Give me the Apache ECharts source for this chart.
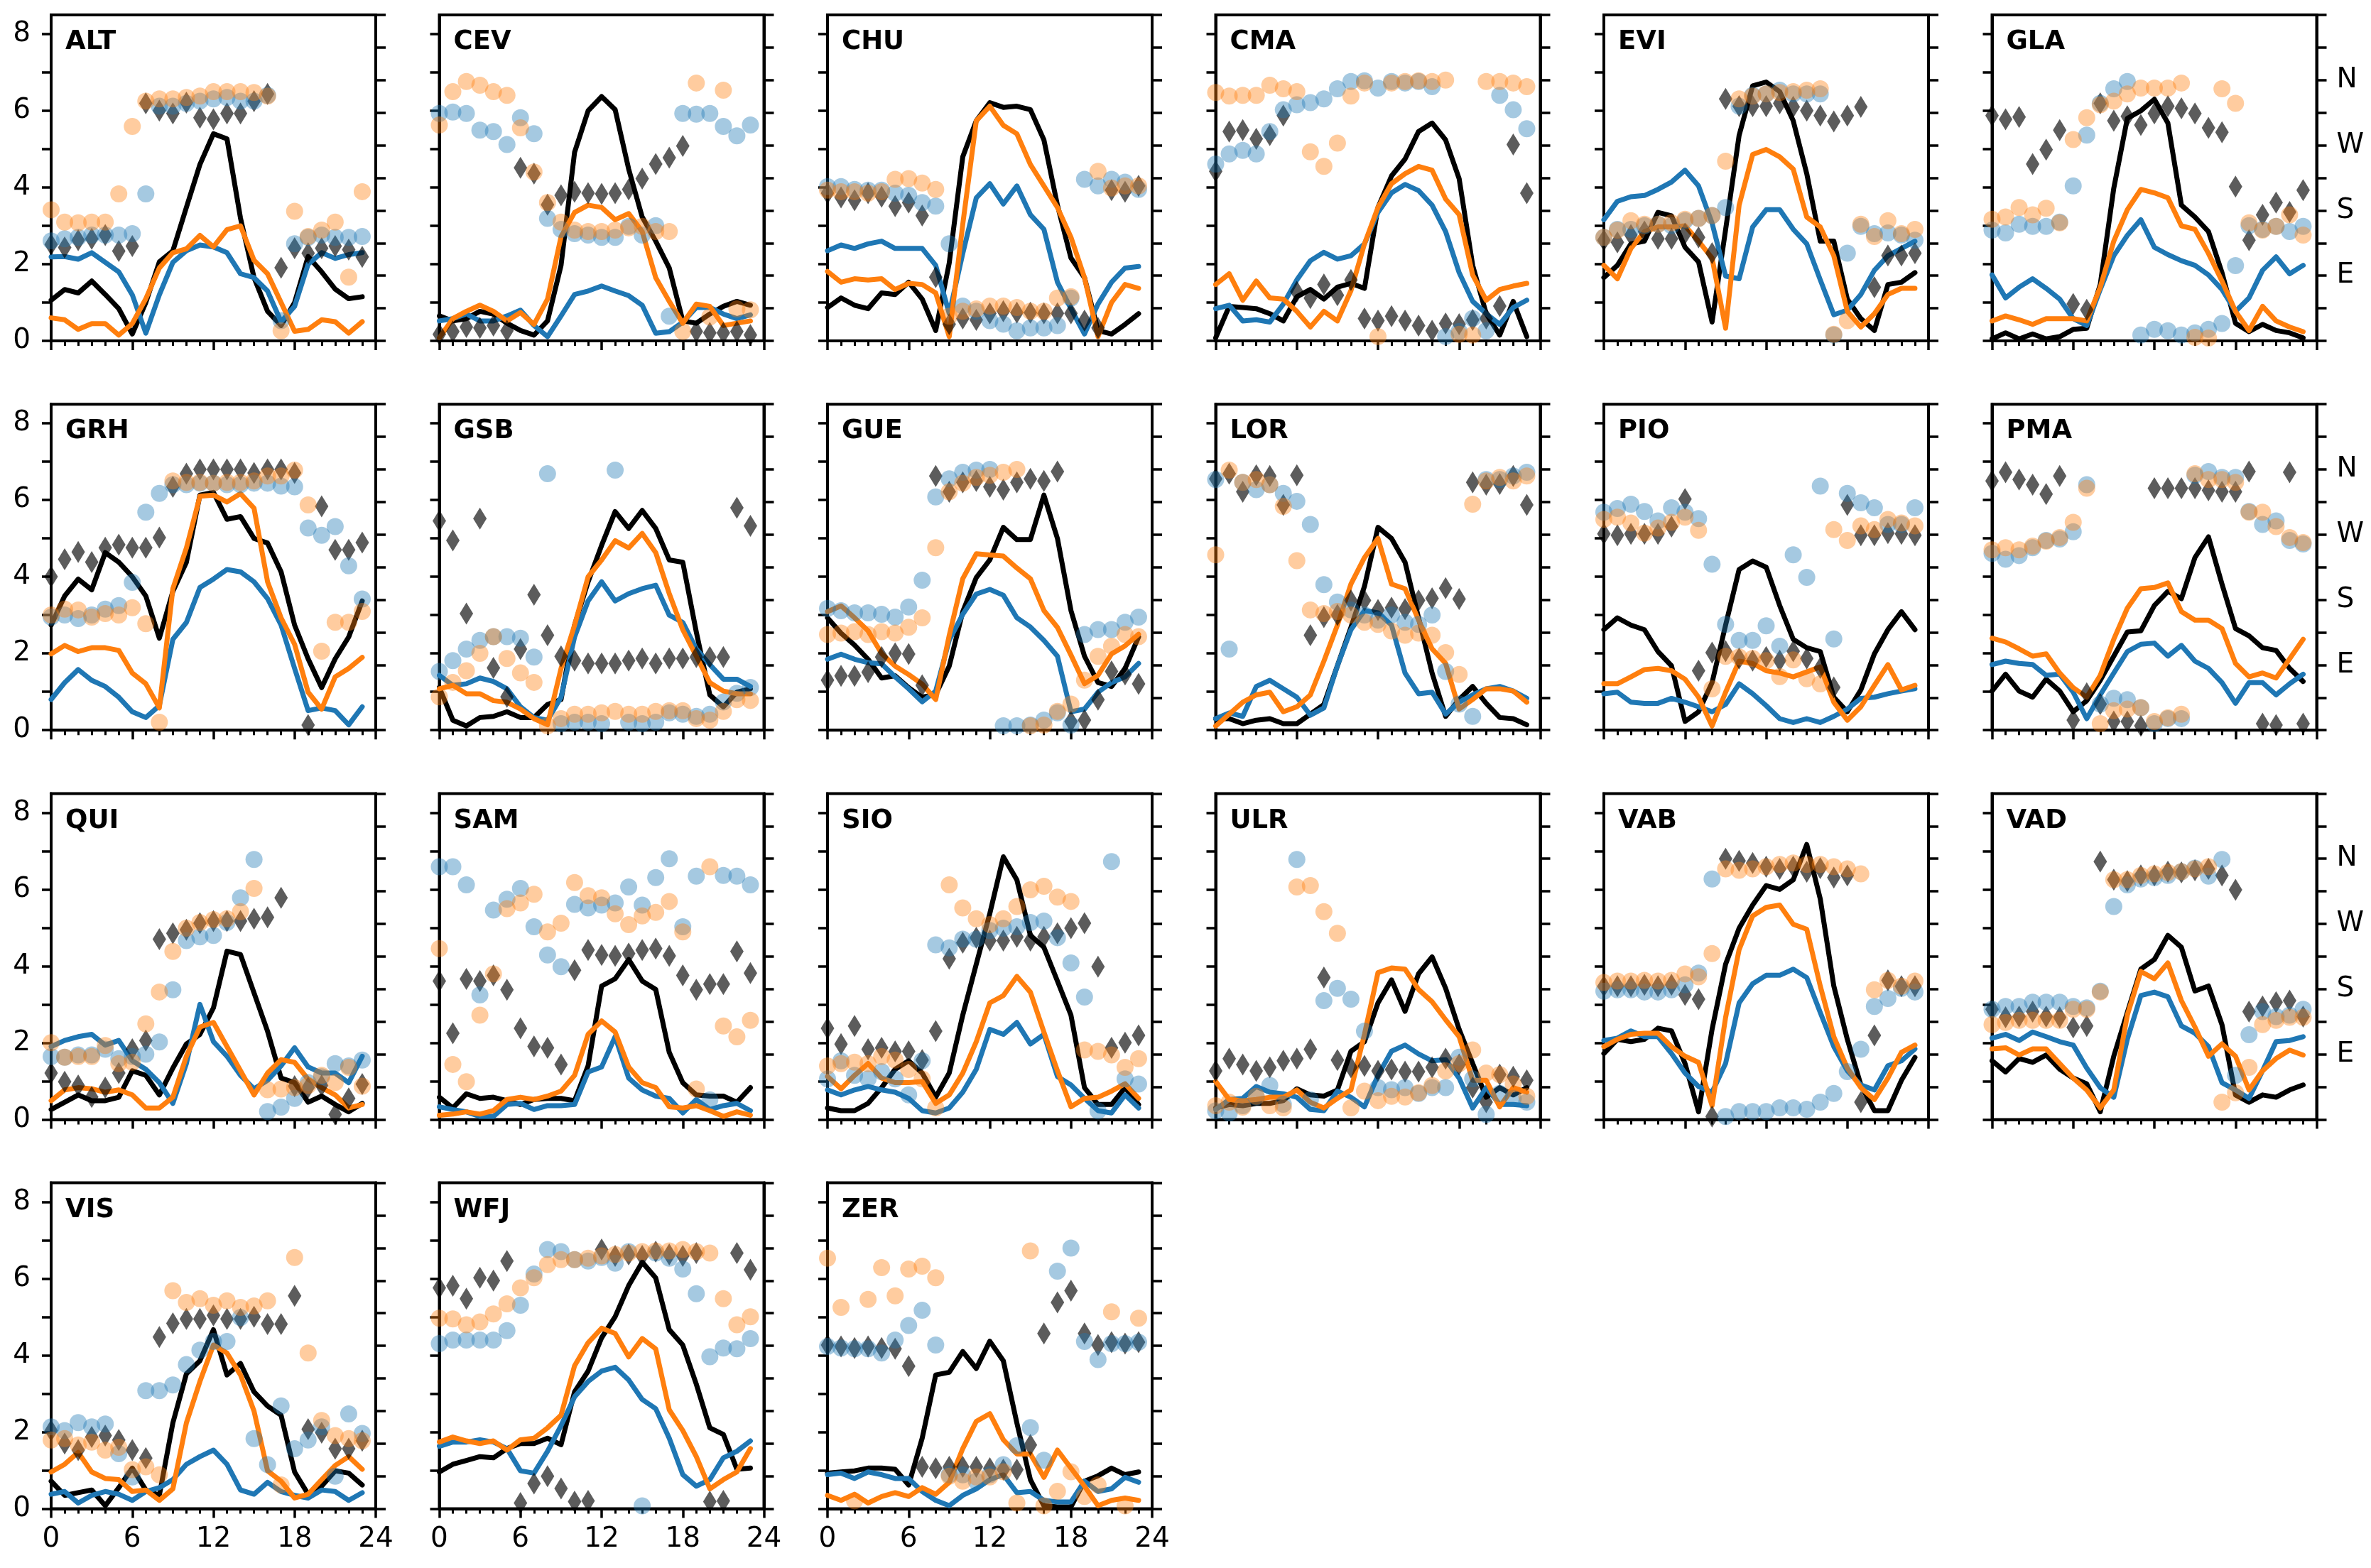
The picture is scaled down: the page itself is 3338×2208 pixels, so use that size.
<!DOCTYPE html>
<html>
<head>
<meta charset="utf-8">
<script src="https://cdn.jsdelivr.net/npm/echarts@6/dist/echarts.min.js"></script>
<style>html,body{margin:0;padding:0;background:#fff}#c{width:3338px;height:2208px}</style>
</head>
<body>
<div id="c"></div>
<script>
const stations = ['ALT','CEV','CHU','CMA','EVI','GLA','GRH','GSB','GUE','LOR','PIO','PMA','QUI','SAM','SIO','ULR','VAB','VAD','VIS','WFJ','ZER'];
const hours = [0,1,2,3,4,5,6,7,8,9,10,11,12,13,14,15,16,17,18,19,20,21,22,23];
const yTicks = [0,1,2,3,4,5,6,7,8];
const yLabels = [0,2,4,6,8];
const dirLabels = {90:'E',180:'S',270:'W',360:'N'};

// observed wind speed (black line)
const spdObs = [
[1.06,1.34,1.25,1.56,1.21,0.84,0.18,1.0,2.06,2.35,3.48,4.6,5.4,5.27,3.2,1.65,0.77,0.4,1.0,2.2,1.8,1.35,1.1,1.15],
[0.65,0.52,0.58,0.77,0.7,0.46,0.27,0.15,0.52,1.97,4.92,6.0,6.37,6.03,4.48,3.23,2.6,1.9,0.52,0.46,0.7,0.9,1.03,0.93],
[0.87,1.12,0.93,0.84,1.25,1.21,1.53,1.09,0.27,2.03,4.8,5.74,6.21,6.09,6.12,6.03,5.24,3.54,2.16,1.65,0.27,0.18,0.43,0.71],
[0.08,0.9,0.87,0.84,0.71,0.52,1.15,1.34,1.09,1.4,1.5,1.37,3.48,4.3,4.74,5.46,5.68,5.24,4.23,1.97,0.71,0.15,1.03,0.11],
[1.65,1.97,2.53,2.6,3.35,3.26,2.44,2.06,0.49,2.9,5.36,6.65,6.75,6.5,5.74,4.36,2.6,2.6,1.09,0.58,0.27,1.47,1.53,1.78],
[0.05,0.21,0.05,0.18,0.05,0.11,0.3,0.33,1.47,3.98,5.8,6.0,6.3,5.68,3.54,3.23,2.85,1.78,0.46,0.24,0.43,0.27,0.21,0.08],
[2.74,3.5,3.94,3.66,4.63,4.38,4.0,3.5,2.4,3.62,4.38,6.13,6.2,5.5,5.57,5.0,4.88,4.13,2.74,1.86,1.11,1.86,2.43,3.37],
[1.11,0.26,0.11,0.33,0.36,0.48,0.33,0.33,0.67,0.8,2.74,3.87,4.82,5.7,5.26,5.73,5.26,4.44,4.38,2.56,0.92,0.61,0.99,1.08],
[2.93,2.53,2.22,1.85,1.36,1.42,1.11,0.86,0.93,1.67,3.09,3.98,4.44,5.29,4.97,4.97,6.13,5.0,3.12,1.93,1.24,1.14,1.61,2.43],
[0.3,0.3,0.17,0.26,0.3,0.17,0.17,0.42,0.67,1.68,2.68,3.75,5.29,5.0,4.38,2.93,1.49,0.36,0.8,1.14,0.7,0.33,0.3,0.14],
[2.62,2.93,2.74,2.62,2.05,1.68,0.23,0.48,1.24,2.74,4.19,4.41,4.25,3.25,2.37,2.15,2.05,0.86,0.48,1.05,1.99,2.62,3.09,2.62],
[1.02,1.46,1.02,0.86,1.33,1.02,0.48,0.77,1.3,1.93,2.56,2.59,3.25,3.62,3.43,4.5,5.04,3.81,2.65,2.46,2.15,2.08,1.61,1.27],
[0.26,0.45,0.64,0.49,0.49,0.58,1.27,1.15,0.64,1.34,1.97,2.22,2.91,4.39,4.3,3.3,2.3,1.08,0.96,0.45,0.61,0.39,0.2,0.42],
[0.58,0.3,0.67,0.55,0.58,0.49,0.39,0.52,0.55,0.55,0.49,1.4,3.48,3.67,4.17,3.61,3.39,1.75,0.96,0.64,0.61,0.61,0.45,0.83],
[0.3,0.23,0.23,0.42,0.83,1.31,1.53,1.21,0.58,1.21,2.72,4.05,5.37,6.85,6.25,4.8,4.49,3.61,2.72,0.83,0.39,0.39,0.83,0.39],
[0.3,0.39,0.36,0.42,0.42,0.49,0.8,0.64,0.61,0.77,1.78,2.03,3.04,3.64,2.82,3.8,4.24,3.42,2.35,1.46,0.58,0.83,0.64,0.83],
[1.72,2.09,2.03,2.09,2.38,2.31,1.46,0.2,2.35,4.05,4.99,5.59,6.1,6.0,6.25,7.17,5.75,3.48,2.09,0.9,0.23,0.23,1.02,1.62],
[1.53,1.24,1.59,1.49,1.68,1.31,1.08,0.93,0.2,1.65,2.79,3.92,4.17,4.8,4.49,3.35,3.48,2.47,0.64,0.45,0.64,0.58,0.77,0.9],
[0.72,0.35,0.42,0.49,0.08,0.55,1.06,0.49,0.35,2.24,3.52,3.86,4.67,3.49,3.79,3.05,2.68,2.44,0.96,0.38,0.59,0.99,0.93,0.62],
[0.96,1.16,1.26,1.36,1.33,1.57,1.7,1.7,1.84,1.67,3.05,3.59,4.46,5.01,5.82,6.43,6.02,4.67,4.27,3.25,2.11,1.94,1.03,1.06],
[0.93,0.96,0.99,1.06,1.06,1.03,0.62,1.84,3.49,3.56,4.1,3.66,4.37,3.86,2.24,0.76,0.08,0.05,0.05,0.72,0.86,1.06,0.89,0.96]
];

// model A wind speed (blue line)
const spdBlue = [
[2.19,2.2,2.13,2.3,2.05,1.8,1.2,0.2,1.2,2.05,2.35,2.5,2.45,2.3,1.75,1.65,1.3,0.5,0.9,2.0,2.3,2.15,2.25,2.3],
[0.52,0.58,0.7,0.52,0.52,0.65,0.8,0.4,0.11,0.65,1.21,1.3,1.43,1.3,1.18,0.93,0.2,0.24,0.49,0.87,0.87,0.7,0.58,0.68],
[2.35,2.5,2.41,2.53,2.6,2.41,2.41,2.41,1.97,0.71,2.28,3.73,4.1,3.57,4.04,3.29,2.91,1.53,0.84,0.18,0.96,1.53,1.9,1.94],
[0.84,0.93,0.52,0.55,0.49,0.96,1.59,2.09,2.31,2.13,2.22,2.53,3.35,3.86,4.08,3.92,3.54,2.85,1.78,1.03,0.71,0.43,0.87,1.06],
[3.16,3.64,3.76,3.79,3.95,4.14,4.45,4.04,3.07,1.69,1.62,2.97,3.42,3.42,2.91,2.53,1.59,0.68,0.8,1.21,1.84,2.22,2.41,2.6],
[1.72,1.12,1.4,1.62,1.37,1.09,0.58,0.4,1.34,2.22,2.75,3.16,2.44,2.25,2.09,1.97,1.72,1.34,0.77,1.12,1.84,2.19,1.75,1.97],
[0.8,1.24,1.58,1.3,1.14,0.86,0.48,0.33,0.64,2.37,2.81,3.72,3.94,4.19,4.13,3.87,3.43,2.74,1.61,0.51,0.58,0.51,0.14,0.61],
[1.43,1.17,1.21,1.36,1.27,1.08,0.61,0.33,0.26,0.86,2.43,3.37,3.87,3.37,3.56,3.69,3.78,3.0,2.81,2.12,1.71,1.33,1.33,1.14],
[1.85,1.98,1.85,1.76,1.73,1.39,1.08,0.74,1.02,2.35,3.02,3.55,3.67,3.52,2.93,2.69,2.34,1.93,0.48,0.55,0.99,1.24,1.39,1.74],
[0.3,0.45,0.36,1.14,1.3,1.08,0.86,0.39,0.58,1.68,2.62,3.12,3.06,2.74,1.49,0.95,0.99,0.42,0.73,0.92,1.08,1.14,1.02,0.83],
[0.95,0.99,0.73,0.7,0.7,0.83,0.73,0.61,0.48,0.67,1.21,0.95,0.64,0.3,0.2,0.3,0.2,0.36,0.55,0.83,0.86,0.95,1.02,1.08],
[1.71,1.8,1.74,1.71,1.43,1.46,0.99,0.3,0.92,1.49,2.05,2.24,2.27,1.93,2.21,1.8,1.61,1.24,0.7,1.24,1.24,0.92,1.21,1.46],
[1.9,2.06,2.16,2.22,1.94,2.06,1.53,1.31,0.96,0.42,1.46,3.0,2.03,1.65,1.15,0.8,1.02,1.4,1.87,1.37,1.21,1.21,0.96,1.65],
[0.33,0.26,0.2,0.08,0.08,0.39,0.42,0.26,0.36,0.36,0.39,1.24,1.37,2.16,1.08,0.77,0.61,0.55,0.17,0.52,0.26,0.36,0.42,0.23],
[0.77,0.64,0.77,0.86,0.77,0.71,0.55,0.23,0.17,0.3,0.71,1.31,2.35,2.22,2.53,1.97,2.22,1.12,0.9,0.55,0.23,0.17,0.64,0.3],
[0.26,0.52,0.55,0.86,0.71,0.67,0.58,0.26,0.23,0.74,0.58,0.33,1.15,1.78,1.94,1.71,1.53,1.56,1.08,0.3,0.83,0.39,0.39,0.36],
[2.06,2.12,2.31,2.16,2.16,1.72,1.21,0.86,0.71,1.46,3.04,3.54,3.76,3.76,3.92,3.7,2.79,1.9,1.27,0.9,0.77,1.4,1.53,1.84],
[2.12,2.22,2.06,2.28,2.16,2.03,1.94,1.34,0.83,0.58,2.09,3.23,3.32,3.2,2.44,2.25,1.9,0.96,0.77,0.55,1.27,2.03,2.06,2.16],
[0.38,0.45,0.15,0.35,0.45,0.38,0.22,0.45,0.55,0.76,1.16,1.36,1.53,1.16,0.49,0.38,0.69,0.45,0.35,0.28,0.49,0.45,0.22,0.42],
[1.63,1.74,1.74,1.8,1.74,1.57,0.99,0.93,1.5,2.17,2.92,3.32,3.59,3.69,3.36,2.85,2.61,1.84,0.89,0.59,0.76,1.33,1.5,1.77],
[0.89,0.93,0.79,0.96,0.89,0.79,0.79,0.45,0.22,0.08,0.35,0.52,0.76,0.89,0.42,0.45,0.22,0.18,0.18,0.72,0.45,0.52,0.82,0.69]
];

// model B wind speed (orange line)
const spdOrange = [
[0.6,0.55,0.3,0.45,0.45,0.15,0.45,1.1,1.9,2.3,2.4,2.75,2.45,2.9,3.0,2.1,1.75,1.0,0.25,0.3,0.55,0.5,0.2,0.5],
[0.08,0.58,0.77,0.93,0.77,0.52,0.74,0.43,1.09,2.72,3.35,3.54,3.48,3.16,3.32,2.85,1.65,1.03,0.46,0.96,0.9,0.4,0.46,0.52],
[1.81,1.53,1.62,1.59,1.62,1.34,1.5,1.47,1.25,0.11,3.04,5.74,6.12,5.62,5.4,4.6,4.04,3.48,2.7,1.65,0.11,1.0,1.47,1.37],
[1.47,1.75,1.06,1.56,1.12,1.09,0.77,0.36,0.77,0.52,1.31,2.53,3.48,4.1,4.36,4.55,4.45,3.7,3.29,1.72,1.06,1.34,1.43,1.5],
[1.97,1.62,2.41,2.85,2.97,2.97,3.0,2.6,2.16,0.33,3.54,4.86,4.99,4.8,4.48,3.23,2.97,2.22,0.77,0.36,0.71,1.21,1.37,1.37],
[0.52,0.65,0.55,0.43,0.58,0.58,0.58,0.52,1.4,2.6,3.42,3.95,3.86,3.73,3.0,2.91,2.28,1.56,0.77,0.27,0.9,0.52,0.36,0.24],
[1.99,2.21,2.05,2.15,2.15,2.08,1.49,1.21,0.58,3.69,4.75,6.1,6.13,5.95,6.17,5.79,3.87,2.93,2.24,0.99,0.55,1.39,1.61,1.9],
[1.08,1.17,0.95,0.95,0.77,0.73,0.55,0.3,0.14,1.61,2.74,4.0,4.44,4.94,4.75,5.13,4.63,3.56,2.62,1.93,1.24,1.02,0.95,0.95],
[3.09,3.24,2.93,2.59,2.0,1.67,1.45,1.2,0.8,2.47,3.95,4.6,4.57,4.54,4.23,3.95,3.12,2.68,1.96,1.21,1.43,1.99,2.2,2.5],
[0.11,0.42,0.73,0.92,0.99,0.48,0.61,0.92,1.8,2.74,3.81,4.5,5.0,3.81,3.69,2.87,2.12,1.74,0.55,0.8,1.08,1.08,1.02,0.73],
[1.21,1.21,1.39,1.58,1.61,1.55,1.33,0.86,0.11,0.99,1.8,1.74,1.55,1.49,1.39,1.52,1.65,0.73,0.26,0.61,1.17,1.71,1.05,1.17],
[2.4,2.3,2.12,1.93,1.99,1.49,1.11,0.86,1.43,2.37,3.18,3.69,3.72,3.84,3.09,2.87,2.87,2.65,1.74,1.39,1.49,1.36,1.86,2.37],
[0.49,0.77,0.83,0.8,0.71,0.77,0.64,0.3,0.3,0.58,1.65,2.41,2.53,1.9,1.27,0.64,1.21,1.56,1.49,1.05,0.83,0.64,0.3,0.39],
[0.11,0.14,0.2,0.14,0.23,0.52,0.58,0.52,0.61,0.74,1.15,2.22,2.57,2.28,1.37,0.96,0.83,0.33,0.3,0.36,0.23,0.08,0.2,0.11],
[1.12,0.8,1.15,1.46,1.08,0.96,0.96,0.99,0.42,0.64,1.21,2.03,3.04,3.23,3.73,3.32,2.28,1.27,0.33,0.55,0.58,0.74,0.93,0.55],
[0.99,0.52,0.49,0.52,0.58,0.58,0.77,0.45,0.3,0.55,0.77,2.22,3.83,3.95,3.92,3.39,3.07,2.6,2.16,1.02,1.02,0.33,0.83,0.71],
[1.9,2.09,2.22,2.25,2.25,1.9,1.65,1.49,0.36,2.66,4.43,5.31,5.53,5.59,5.09,4.96,3.48,2.16,1.34,0.83,0.52,1.08,1.75,1.94],
[1.84,1.87,1.68,1.84,1.84,1.46,1.08,0.77,0.3,0.77,2.72,3.86,3.67,4.08,3.1,2.41,1.65,1.97,1.65,0.77,1.27,1.59,1.81,1.68],
[0.96,1.16,1.47,0.96,0.79,0.76,0.45,0.49,0.22,0.52,2.24,3.32,4.27,4.06,3.49,2.55,0.99,0.72,0.28,0.38,0.76,1.13,1.36,1.03],
[1.74,1.87,1.77,1.7,1.77,1.53,1.8,1.84,2.11,2.44,3.73,4.33,4.71,4.57,3.96,4.44,4.17,2.58,2.04,1.36,0.52,0.76,0.96,1.57],
[0.35,0.22,0.38,0.15,0.32,0.42,0.32,0.55,0.38,0.69,1.57,2.28,2.48,1.8,1.43,1.43,0.82,1.53,1.06,0.59,0.08,0.22,0.28,0.22]
];

// observed wind direction, degrees (black diamonds)
const dirObs = [
[133,129,139,141,146,124,131,328,318,314,329,308,306,314,314,331,341,101,128,121,128,131,126,116],
[9,13,19,18,21,14,239,231,188,201,206,204,203,204,209,224,244,253,269,13,11,11,13,8],
[204,198,194,204,199,186,191,173,88,23,31,29,38,41,39,39,38,38,38,28,18,208,206,214],
[234,289,291,279,284,311,68,59,78,63,84,31,28,34,28,21,14,24,23,29,31,48,271,204],
[139,136,146,151,141,141,148,143,121,334,324,324,324,328,323,318,311,303,311,323,74,118,118,121],
[311,306,309,244,264,291,51,43,328,304,310,298,314,324,321,314,294,288,213,139,174,191,178,208],
[212,236,246,232,252,256,252,252,266,336,354,360,360,360,360,355,360,360,355,7,309,249,249,259],
[289,262,161,292,86,46,112,187,131,102,96,92,92,92,96,99,92,99,99,101,101,101,307,282],
[69,75,75,80,101,106,105,62,351,329,342,344,336,332,342,347,344,357,12,14,42,81,77,64],
[347,354,329,352,351,311,352,131,156,159,179,179,166,169,167,179,182,196,181,342,339,340,351,311],
[271,269,271,271,271,281,319,82,107,109,99,96,101,96,109,99,86,59,311,269,269,272,271,269],
[344,356,346,339,326,351,14,51,36,12,12,6,334,334,334,334,331,329,329,357,9,7,356,9],
[64,52,47,31,44,64,97,109,249,257,262,271,274,274,274,277,279,306,46,44,47,7,29,49],
[191,119,194,191,199,179,126,101,99,76,206,234,227,226,229,234,236,226,199,179,187,187,232,202],
[126,104,129,97,99,94,94,82,122,222,244,251,247,247,252,247,252,257,264,271,211,99,106,116],
[67,84,76,67,72,81,84,97,196,82,72,74,67,69,66,66,72,84,76,44,24,62,59,54],
[184,184,184,186,184,186,172,166,4,360,357,354,349,346,349,342,347,334,337,24,116,192,184,184],
[152,141,142,149,142,141,127,129,356,331,329,337,337,342,341,344,346,337,317,149,156,162,164,142],
[108,90,81,99,101,95,81,70,237,256,262,262,267,262,262,265,255,255,294,110,105,83,83,94],
[305,308,290,319,315,342,8,35,45,28,10,11,358,349,351,349,355,351,349,353,10,11,353,330],
[226,224,222,224,222,221,197,58,56,58,58,58,56,54,54,88,242,285,301,242,226,230,228,230]
];

// model A wind direction, degrees (blue circles)
const dirBlue = [
[138,141,143,146,146,146,148,203,324,324,328,331,334,336,331,331,339,28,134,143,146,143,143,144],
[314,316,314,291,289,271,308,286,169,154,148,146,143,143,158,146,159,34,314,313,314,296,283,298],
[213,213,209,208,208,204,201,191,186,134,48,41,28,23,14,18,18,21,59,223,214,223,219,209],
[244,258,263,258,289,319,326,329,334,348,358,359,349,358,356,358,351,6,13,31,14,339,319,293],
[143,154,154,159,161,159,166,169,173,184,324,339,341,346,341,341,341,8,121,158,148,149,146,139],
[153,149,161,158,158,164,214,284,328,348,358,8,16,14,8,11,16,24,104,159,154,158,151,158],
[156,159,154,159,167,172,204,301,327,339,339,341,341,339,339,341,341,337,336,279,269,281,227,181],
[81,96,112,124,129,129,127,101,354,9,11,11,9,359,11,9,11,24,22,19,22,39,51,59],
[168,165,162,162,160,156,170,207,322,347,356,359,360,6,6,7,14,24,7,132,139,139,149,156],
[346,112,342,332,339,327,316,284,201,177,166,159,152,159,149,146,159,81,36,19,346,346,351,356],
[301,306,312,302,289,307,301,292,229,146,124,124,144,116,242,211,337,126,327,314,307,284,284,307],
[244,236,241,252,262,264,274,339,36,44,42,31,9,16,16,352,357,349,349,302,284,289,262,257],
[87,86,89,89,97,84,87,90,107,179,247,252,254,272,306,359,11,17,29,51,59,77,74,82],
[349,349,324,172,289,304,319,266,227,211,297,292,296,299,321,296,334,360,266,336,27,337,336,324],
[56,81,61,56,66,56,34,81,241,237,249,249,261,264,266,272,274,251,216,169,12,356,56,49],
[12,9,19,31,47,21,359,27,164,181,166,122,44,41,44,36,44,44,86,56,7,36,29,24],
[177,179,179,176,176,179,186,202,332,4,11,11,11,16,16,14,24,36,66,97,156,167,181,176],
[152,156,156,162,162,162,156,154,177,294,324,332,334,337,342,347,336,359,61,117,149,142,144,152],
[113,108,119,113,117,76,44,163,163,171,199,219,231,231,264,97,61,142,83,95,113,45,131,104],
[228,233,233,233,233,246,281,324,358,355,344,342,347,339,355,4,353,346,331,297,210,222,221,235],
[224,222,221,221,215,233,253,274,226,47,47,38,47,61,87,112,67,328,360,231,206,228,228,230]
];

// model B wind direction, degrees (orange circles)
const dirOrange = [
[181,164,163,164,164,203,296,331,334,334,336,338,344,344,344,343,338,14,179,144,153,164,88,206],
[298,344,358,353,344,339,294,233,191,164,153,151,151,153,156,158,151,151,13,356,33,346,44,43],
[208,206,206,204,206,223,224,218,209,34,41,44,48,48,46,41,41,59,61,null,234,211,214,214],
[343,338,339,339,353,348,344,261,241,273,338,356,6,356,358,359,358,360,9,8,358,358,356,351],
[143,153,166,161,161,163,168,169,173,248,334,338,341,343,344,346,348,9,28,161,144,166,148,154],
[168,171,184,174,183,163,278,308,326,331,341,349,349,349,356,5,4,348,328,163,153,158,174,146],
[159,167,166,156,161,159,169,147,11,344,342,342,341,342,342,344,351,351,359,311,109,149,149,164],
[46,66,82,106,129,99,79,66,6,16,22,22,24,26,22,22,26,27,27,16,14,26,42,41],
[132,134,136,132,136,134,142,155,252,329,341,349,352,356,360,6,7,26,36,69,102,116,132,129],
[242,359,342,346,339,309,234,166,161,164,159,149,146,137,131,134,131,107,77,312,344,349,344,351],
[291,294,286,272,279,287,294,276,57,102,101,99,96,74,97,71,64,277,262,282,277,291,286,282],
[249,252,249,254,261,266,287,334,9,27,29,31,12,17,22,354,346,346,342,301,301,281,266,259],
[106,86,87,87,102,77,79,132,176,232,264,272,276,277,287,319,41,42,44,47,61,51,72,46],
[236,76,52,144,201,291,299,311,259,271,327,309,306,284,269,281,286,301,259,42,349,129,114,137],
[74,77,79,77,87,82,69,56,16,324,292,277,269,277,294,317,322,307,301,96,94,89,72,84],
[19,24,17,32,19,16,321,323,287,257,16,39,26,32,31,37,47,67,77,96,64,62,49,32],
[189,191,191,192,191,192,201,197,229,346,344,346,349,352,354,352,352,349,346,339,179,192,184,191],
[131,134,137,137,137,137,152,152,176,331,331,337,339,341,342,346,349,24,37,72,131,137,141,141],
[95,97,88,92,81,85,54,58,47,301,285,290,281,287,278,280,287,33,347,215,122,101,97,94],
[263,262,254,258,269,283,305,319,337,344,344,346,349,351,353,355,356,356,358,355,353,290,254,265],
[346,278,11,289,333,294,331,335,319,45,38,44,44,51,8,356,4,24,51,17,33,272,4,263]
];

const FONT = 'DejaVu Sans';
const chart = echarts.init(document.getElementById('c'), null, {renderer: 'canvas', width: 3338, height: 2208});

const grids = [], xAxes = [], yAxes = [], series = [], titles = [];
const pair = arr => hours.map((h, i) => [h, arr[i]]).filter(p => p[1] !== null && p[1] !== undefined);

stations.forEach((name, k) => {
  const col = k % 6, row = Math.floor(k / 6);
  const left = 72 + col * 546.5, top = 21 + row * 548.2;
  const bottomRow = (k >= 18);
  grids.push({left: left, top: top, width: 457, height: 459, show: true, borderColor: '#000', borderWidth: 4, containLabel: false});
  titles.push({text: name, left: left + 20, top: top + 20, padding: 0,
    textStyle: {fontSize: 37, fontWeight: 'bold', fontFamily: FONT, color: '#000'}});
  xAxes.push({
    gridIndex: k, type: 'value', min: 0, max: 24, interval: 6,
    axisLine: {show: true, onZero: false, lineStyle: {color: '#000', width: 4}},
    axisTick: {show: true, length: 13, lineStyle: {color: '#000', width: 3.5}},
    minorTick: {show: true, splitNumber: 6, length: 7, lineStyle: {color: '#000', width: 3}},
    axisLabel: {show: bottomRow, fontSize: 39, fontFamily: FONT, color: '#000', margin: 24},
    splitLine: {show: false}, minorSplitLine: {show: false}
  });
  yAxes.push({
    gridIndex: k, type: 'value', position: 'left', min: 0, max: 8.5,
    axisLine: {show: true, onZero: false, lineStyle: {color: '#000', width: 4}},
    axisTick: {show: true, length: 13, customValues: yTicks, lineStyle: {color: '#000', width: 3.5}},
    axisLabel: {show: col === 0, customValues: yLabels, fontSize: 39, fontFamily: FONT, color: '#000', margin: 29},
    splitLine: {show: false}
  });
  yAxes.push({
    gridIndex: k, type: 'value', position: 'right', min: 0, max: 450, interval: 45,
    axisLine: {show: true, onZero: false, lineStyle: {color: '#000', width: 4}},
    axisTick: {show: true, length: 14, lineStyle: {color: '#000', width: 3.5}},
    axisLabel: {show: col === 5, customValues: [90, 180, 270, 360], fontSize: 39, fontFamily: FONT, color: '#000', margin: 28,
      formatter: v => dirLabels[v] || ''},
    splitLine: {show: false}
  });
  const lineDefs = [[spdObs, '#000000'], [spdBlue, '#1f77b4'], [spdOrange, '#ff7f0e']];
  lineDefs.forEach(([arr, c], j) => {
    series.push({type: 'line', xAxisIndex: k, yAxisIndex: 2 * k, data: pair(arr[k]), symbol: 'none',
      lineStyle: {color: c, width: 7, cap: 'round', join: 'round'}, z: 2 + j * 0.1, silent: true});
  });
  series.push({type: 'scatter', xAxisIndex: k, yAxisIndex: 2 * k + 1, data: pair(dirObs[k]), symbol: 'diamond',
    symbolSize: [19, 31], itemStyle: {color: 'rgba(0,0,0,0.8)'}, z: 5, silent: true});
  series.push({type: 'scatter', xAxisIndex: k, yAxisIndex: 2 * k + 1, data: pair(dirBlue[k]), symbol: 'circle',
    symbolSize: 24, itemStyle: {color: 'rgba(31,119,180,0.5)'}, z: 6, silent: true});
  series.push({type: 'scatter', xAxisIndex: k, yAxisIndex: 2 * k + 1, data: pair(dirOrange[k]), symbol: 'circle',
    symbolSize: 24, itemStyle: {color: 'rgba(255,127,14,0.5)'}, z: 7, silent: true});
});

chart.setOption({
  animation: false,
  backgroundColor: '#ffffff',
  title: titles,
  grid: grids,
  xAxis: xAxes,
  yAxis: yAxes,
  series: series
});
</script>
</body>
</html>
